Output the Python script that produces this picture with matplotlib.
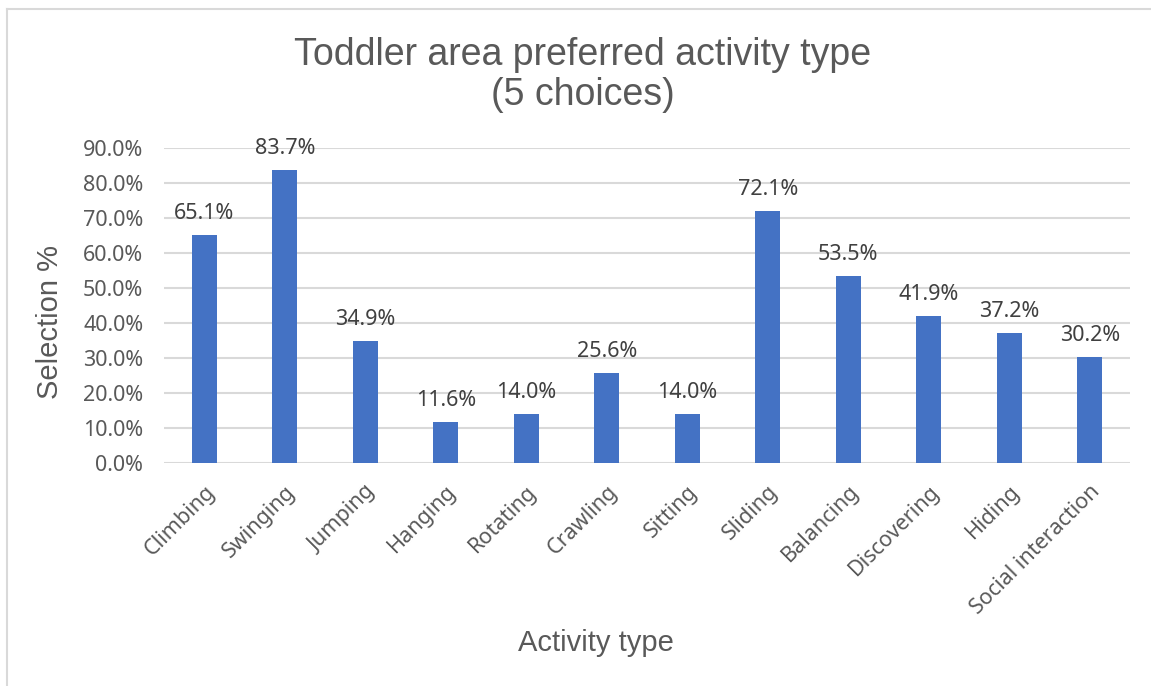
import matplotlib.pyplot as plt
from matplotlib.lines import Line2D
from matplotlib.ticker import FuncFormatter
import numpy as np

activities = ["Climbing", "Swinging", "Jumping", "Hanging", "Rotating", "Crawling",
              "Sitting", "Sliding", "Balancing", "Discovering", "Hiding", "Social interaction"]
selection = [65.1, 83.7, 34.9, 11.6, 14.0, 25.6, 14.0, 72.1, 53.5, 41.9, 37.2, 30.2]

W, H = 1151, 686
fig = plt.figure(figsize=(W / 100, H / 100), dpi=100)
ax = fig.add_axes([164 / W, 1 - 463 / H, (1130 - 164) / W, (463 - 148) / H])

x = np.arange(len(activities))
bars = ax.bar(x, selection, width=0.31, color="#4472C4", zorder=3)

ax.set_xlim(-0.5, len(activities) - 0.5)
ax.set_ylim(0, 90)
ax.set_yticks(np.arange(0, 91, 10))
ax.yaxis.set_major_formatter(FuncFormatter(lambda v, p: f"{v:.1f}%"))
ax.grid(axis="y", color="#d9d9d9", linewidth=1.5, zorder=0)
ax.set_axisbelow(True)
for s in ax.spines.values():
    s.set_visible(False)
ax.tick_params(length=0, colors="#595959", labelsize=15.5)
ax.tick_params(axis="y", pad=15)
for lbl in ax.get_yticklabels():
    lbl.set_family("Noto Sans")

ax.set_xticks(x)
ax.set_xticklabels(activities, rotation=45, ha="right", rotation_mode="anchor",
                   family="Noto Sans", fontsize=15.5, color="#595959")
ax.tick_params(axis="x", pad=13)

for b, v in zip(bars, selection):
    ax.annotate(f"{v:.1f}%", (b.get_x() + b.get_width() / 2, v), xytext=(0, 8),
                textcoords="offset points", ha="center", va="bottom",
                family="Noto Sans", fontsize=15.5, color="#404040")

fig.text(583 / W, 1 - 75 / H, "Toddler area preferred activity type\n(5 choices)",
         ha="center", va="center", family="Liberation Sans", fontsize=27,
         color="#595959", linespacing=1.12)
fig.text(50 / W, 1 - 322 / H, "Selection %", rotation=90, ha="center", va="center",
         family="Liberation Sans", fontsize=21, color="#595959")
fig.text(596 / W, 1 - 643 / H, "Activity type", ha="center", va="center",
         family="Liberation Sans", fontsize=21, color="#595959")

# chart border (top and left edge visible)
fig.add_artist(Line2D([7 / W, 1.0], [1 - 9 / H, 1 - 9 / H], color="#d9d9d9", lw=1.5))
fig.add_artist(Line2D([7 / W, 7 / W], [0, 1 - 9 / H], color="#d9d9d9", lw=1.5))

fig.savefig("out.png", dpi=100)
